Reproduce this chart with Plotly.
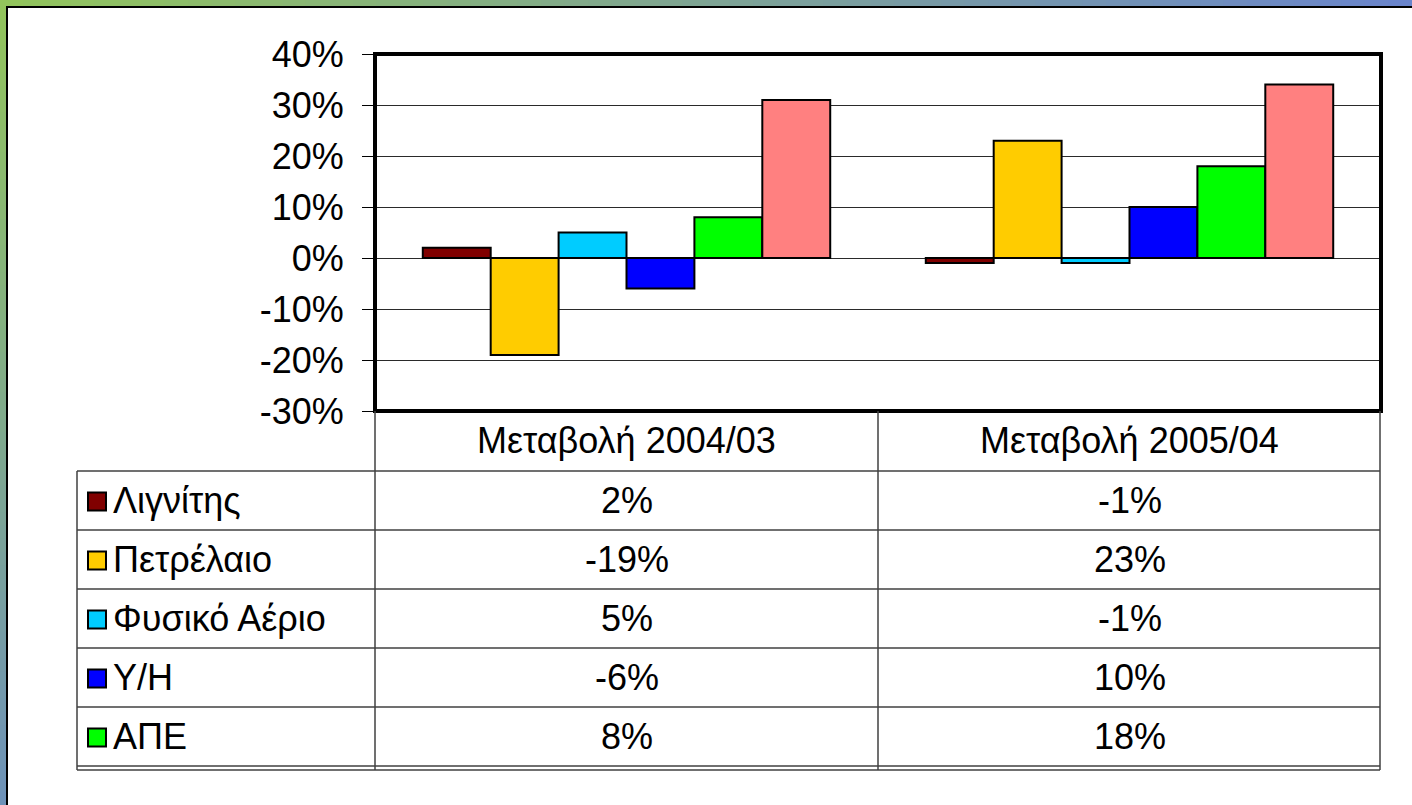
import plotly.graph_objects as go

W, H = 1412, 805

categories = ["Μεταβολή 2004/03", "Μεταβολή 2005/04"]
series_names = ["Λιγνίτης", "Πετρέλαιο", "Φυσικό Αέριο", "Υ/Η", "ΑΠΕ", "Εισαγωγές"]
lignite = [0.02, -0.01]
oil = [-0.19, 0.23]
natural_gas = [0.05, -0.01]
hydro = [-0.06, 0.10]
renewables = [0.08, 0.18]
imports = [0.31, 0.34]
series_values = [lignite, oil, natural_gas, hydro, renewables, imports]
series_colors = ["#800000", "#FFCC00", "#00CCFF", "#0000FF", "#00FF00", "#FF8080"]
y_ticks = [-0.3, -0.2, -0.1, 0.0, 0.1, 0.2, 0.3, 0.4]
table_rows = 5  # the data table only lists the first five series

FONT = "Liberation Sans, Arial, sans-serif"
FS = 36


def px_x(x):
    return x / W


def px_y(y):
    return 1 - y / H


def mix(c1, c2, t):
    return "rgb({},{},{})".format(*[round(a + (b - a) * t) for a, b in zip(c1, c2)])


def pct(v):
    return f"{round(v * 100)}%"


fig = go.Figure()
for name, vals, color in zip(series_names, series_values, series_colors):
    fig.add_trace(go.Bar(
        x=categories, y=vals, name=name,
        marker=dict(color=color, line=dict(color="black", width=2)),
    ))

plot_l, plot_r, plot_t, plot_b = 375, 1381, 54, 411

fig.update_layout(
    width=W, height=H,
    margin=dict(l=0, r=0, t=0, b=0, autoexpand=False),
    paper_bgcolor="white", plot_bgcolor="white",
    barmode="group", bargap=0.19, bargroupgap=0,
    showlegend=False,
    font=dict(family=FONT, size=FS, color="black"),
    xaxis=dict(domain=[px_x(plot_l), px_x(plot_r)], showticklabels=False,
               ticks="", showgrid=False, zeroline=False, automargin=False),
    yaxis=dict(domain=[px_y(plot_b), px_y(plot_t)], range=[-0.3, 0.4],
               tickmode="array", tickvals=y_ticks, ticktext=[pct(v) for v in y_ticks],
               ticks="outside", ticklen=12, tickcolor="black", automargin=False,
               ticklabelstandoff=11, showgrid=True, gridcolor="#2a2a2a", gridwidth=1,
               zeroline=True, zerolinecolor="#2a2a2a", zerolinewidth=1,
               tickfont=dict(size=FS)),
)

shapes = []
# gradient frame (top and left bands)
green, blue_r, blue_b = (146, 196, 92), (106, 133, 204), (110, 146, 184)
n = 60
for i in range(n):
    shapes.append(dict(type="rect", xref="paper", yref="paper", layer="above",
                       x0=px_x(W * i / n), x1=min(1, px_x(W * (i + 1) / n + 1)), y0=px_y(6), y1=1,
                       fillcolor=mix(green, blue_r, i / (n - 1)), line=dict(width=0)))
for i in range(n):
    shapes.append(dict(type="rect", xref="paper", yref="paper", layer="above",
                       x0=0, x1=px_x(6), y0=max(0, px_y(6 + (H - 6) * (i + 1) / n + 1)),
                       y1=px_y(6 + (H - 6) * i / n),
                       fillcolor=mix(green, blue_b, i / (n - 1)), line=dict(width=0)))
shapes.append(dict(type="line", xref="paper", yref="paper", x0=px_x(6), x1=1,
                   y0=px_y(7), y1=px_y(7), line=dict(color="black", width=2)))
shapes.append(dict(type="line", xref="paper", yref="paper", x0=px_x(7), x1=px_x(7),
                   y0=0, y1=px_y(6), line=dict(color="black", width=2)))

# plot area border
shapes.append(dict(type="rect", xref="paper", yref="paper",
                   x0=px_x(plot_l), x1=px_x(plot_r), y0=px_y(plot_b), y1=px_y(plot_t),
                   line=dict(color="black", width=4)))

# data table grid
tbl_l, col_mid, tbl_r = 77, 878, 1380
row_edges = [471, 530, 589, 648, 707, 766]
line_style = dict(color="#404040", width=1.5)
for xv in (plot_l, col_mid, tbl_r):
    shapes.append(dict(type="line", xref="paper", yref="paper", x0=px_x(xv), x1=px_x(xv),
                       y0=px_y(row_edges[-1] + 4), y1=px_y(plot_b), line=line_style))
shapes.append(dict(type="line", xref="paper", yref="paper", x0=px_x(tbl_l), x1=px_x(tbl_l),
                   y0=px_y(row_edges[-1] + 4), y1=px_y(row_edges[0]), line=line_style))
for yv in row_edges:
    shapes.append(dict(type="line", xref="paper", yref="paper", x0=px_x(tbl_l), x1=px_x(tbl_r),
                       y0=px_y(yv), y1=px_y(yv), line=line_style))
shapes.append(dict(type="line", xref="paper", yref="paper", x0=px_x(tbl_l), x1=px_x(tbl_r),
                   y0=px_y(row_edges[-1] + 4), y1=px_y(row_edges[-1] + 4), line=line_style))

annotations = []
for cat in categories:
    annotations.append(dict(x=cat, xref="x", y=px_y((plot_b + row_edges[0]) / 2), yref="paper",
                            xanchor="center", yanchor="middle",
                            text=cat, showarrow=False, font=dict(size=FS)))

for r in range(table_rows):
    yc = (row_edges[r] + row_edges[r + 1]) / 2
    shapes.append(dict(type="rect", xref="paper", yref="paper",
                       x0=px_x(88), x1=px_x(106), y0=px_y(yc + 10), y1=px_y(yc - 8),
                       fillcolor=series_colors[r], line=dict(color="black", width=2)))
    annotations.append(dict(x=px_x(111), xref="paper", y=px_y(yc), yref="paper",
                            xanchor="left", yanchor="middle", text=series_names[r],
                            showarrow=False, font=dict(size=FS)))
    for cat, v in zip(categories, series_values[r]):
        annotations.append(dict(x=cat, xref="x", y=px_y(yc), yref="paper",
                                xanchor="center", yanchor="middle",
                                text=pct(v), showarrow=False, font=dict(size=FS)))

fig.update_layout(shapes=shapes, annotations=annotations)
fig.write_html("out.html", config={"displayModeBar": False},
               post_script="document.body.style.margin='0';")
